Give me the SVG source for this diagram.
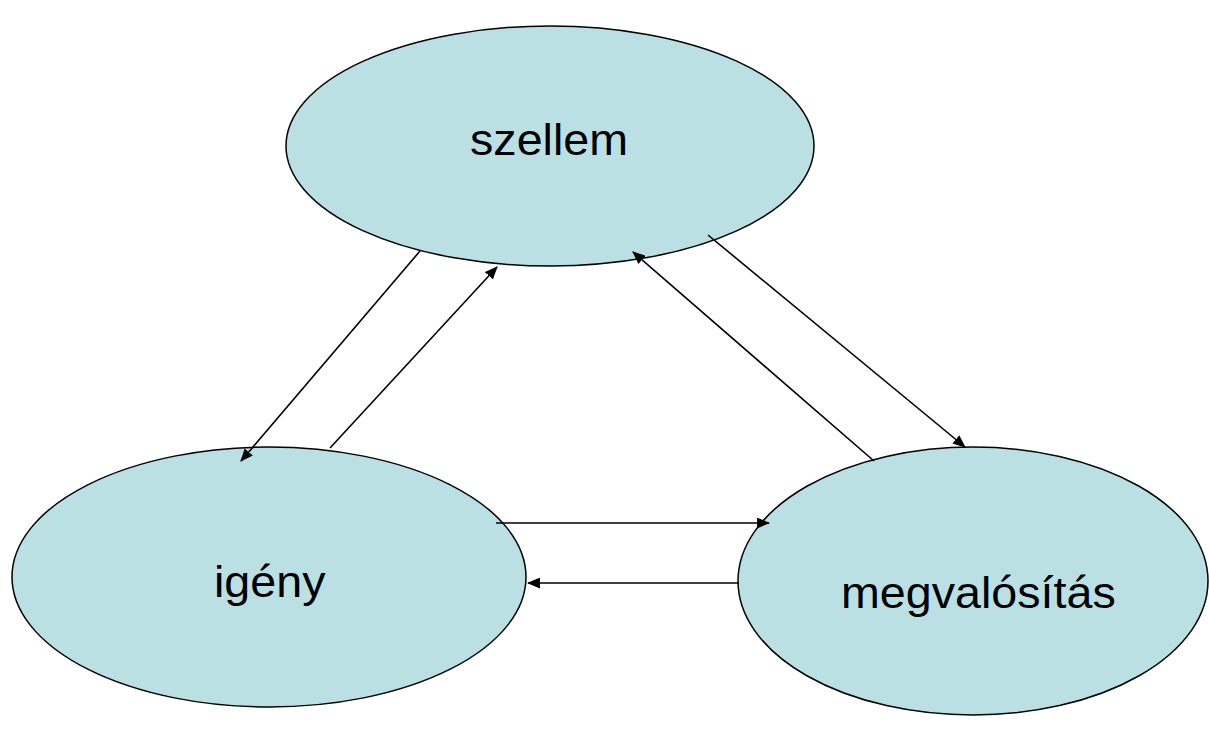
<svg xmlns="http://www.w3.org/2000/svg" width="1209" height="735" viewBox="0 0 1209 735">
  <style>
    .node { fill: #BAE0E4; stroke: #000; stroke-width: 1.5; }
    .label { font-family: "Liberation Sans", Arial, sans-serif; font-size: 44px; fill: #000; }
    .edge { stroke: #000; stroke-width: 1.6; fill: none; marker-end: url(#arrow); }
  </style>
  <defs>
    <marker id="arrow" viewBox="0 0 12 10" refX="11" refY="5" markerWidth="13" markerHeight="11" markerUnits="userSpaceOnUse" orient="auto">
      <path d="M0,0 L12,5 L0,10 Z" fill="#000"/>
    </marker>
  </defs>
  <rect width="1209" height="735" fill="#fff"/>

  <g id="node-szellem">
    <ellipse class="node" cx="550" cy="146" rx="264" ry="120"/>
    <text class="label" transform="translate(470,155) scale(1.06,1)">szellem</text>
  </g>

  <g id="node-igeny">
    <ellipse class="node" cx="269" cy="577" rx="257" ry="130"/>
    <text class="label" transform="translate(214,597) scale(1.06,1)">igény</text>
  </g>

  <g id="node-megvalositas">
    <ellipse class="node" cx="973" cy="581" rx="235" ry="134"/>
    <text class="label" transform="translate(841,608) scale(1.06,1)">megvalósítás</text>
  </g>

  <g id="connectors">
    <line class="edge" x1="420" y1="251" x2="241" y2="461"/>
    <line class="edge" x1="330" y1="448" x2="497" y2="267"/>
    <line class="edge" x1="874" y1="461" x2="633" y2="252"/>
    <line class="edge" x1="708" y1="235" x2="965" y2="447"/>
    <line class="edge" x1="496" y1="523" x2="769" y2="523"/>
    <line class="edge" x1="739" y1="583" x2="528" y2="583"/>
  </g>
</svg>
